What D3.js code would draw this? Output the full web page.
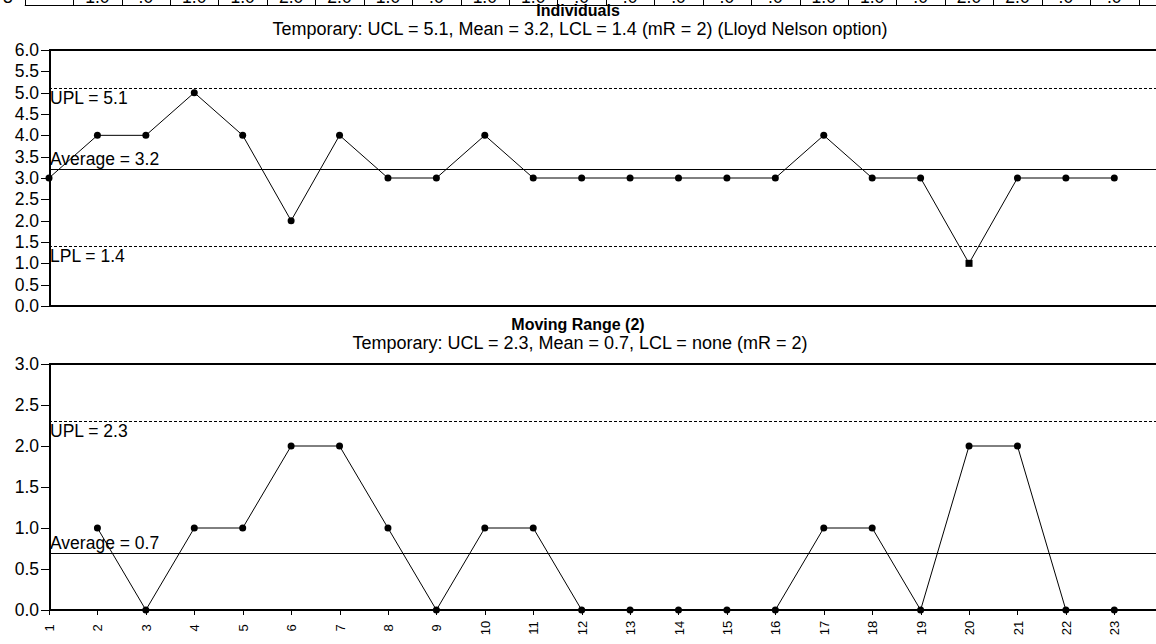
<!DOCTYPE html>
<html>
<head>
<meta charset="utf-8">
<script src="https://cdn.jsdelivr.net/npm/d3@7"></script>
<style>
  body { margin: 0; background: #fff; }
  svg { display: block; font-family: "Liberation Sans", Arial, sans-serif; }
  .axis path, .axis line { stroke: #000; shape-rendering: crispEdges; }
  .axis text { fill: #000; }
</style>
</head>
<body>
<div id="chart"></div>
<script>
var width = 1156,
    height = 644;

// data
var points = [1,2,3,4,5,6,7,8,9,10,11,12,13,14,15,16,17,18,19,20,21,22,23];
var individuals = [3,4,4,5,4,2,4,3,3,4,3,3,3,3,3,3,4,3,3,1,3,3,3];
var movingRange = [null,1,0,1,1,2,2,1,0,1,1,0,0,0,0,0,1,1,0,2,2,0,0];
var indSignals = [20];
var indTicks = [0,0.5,1,1.5,2,2.5,3,3.5,4,4.5,5,5.5,6];
var mrTicks = [0,0.5,1,1.5,2,2.5,3];
var indLimits = [
  {name: "UPL", value: 5.1, dash: true},
  {name: "Average", value: 3.2, dash: false},
  {name: "LPL", value: 1.4, dash: true}
];
var mrLimits = [
  {name: "UPL", value: 2.3, dash: true},
  {name: "Average", value: 0.7, dash: false}
];

var svg = d3.select("#chart").append("svg")
    .attr("width", width)
    .attr("height", height);

var x = d3.scaleLinear().domain([1, 23]).range([49, 1114.3]);
var plotRight = 1162;
var fmt = d3.format(".1f");
var labelSize = "17.5px";

// cut-off table strip at the very top
var strip = svg.append("g");
strip.append("line")
    .attr("x1", x(0.5)).attr("x2", width)
    .attr("y1", 5.5).attr("y2", 5.5)
    .attr("stroke", "#000");
strip.selectAll(".cellline")
  .data(points.concat([24]))
  .enter().append("line")
    .attr("x1", function(d) { return Math.round(x(d - 0.5)) + 0.5; })
    .attr("x2", function(d) { return Math.round(x(d - 0.5)) + 0.5; })
    .attr("y1", -10).attr("y2", 6)
    .attr("stroke", "#000");
strip.selectAll(".celltext")
  .data(movingRange)
  .enter().append("text")
    .attr("x", function(d, i) { return x(points[i]); })
    .attr("y", 3)
    .attr("text-anchor", "middle")
    .style("font-size", labelSize)
    .text(function(d) { return d == null ? "" : (d === 0 ? ".0" : fmt(d)); });
strip.append("text")
    .attr("x", 3).attr("y", 3)
    .style("font-size", labelSize)
    .text("3");

function panel(opts) {
  var g = svg.append("g");
  var y = d3.scaleLinear().domain(opts.domain).range([opts.bottom, opts.top]);

  g.append("text")
    .attr("x", 578).attr("y", opts.top - 34)
    .attr("text-anchor", "middle")
    .style("font-size", "16px").style("font-weight", "bold")
    .text(opts.title);
  g.append("text")
    .attr("x", 580).attr("y", opts.top - 15)
    .attr("text-anchor", "middle")
    .style("font-size", "18px")
    .text(opts.subtitle);

  // control lines
  g.selectAll(".limit")
    .data(opts.limits)
    .enter().append("line")
      .attr("x1", x(1)).attr("x2", plotRight)
      .attr("y1", function(d) { return Math.round(y(d.value)) + 0.5; })
      .attr("y2", function(d) { return Math.round(y(d.value)) + 0.5; })
      .attr("stroke", "#000")
      .attr("stroke-dasharray", function(d) { return d.dash ? "3,2" : null; });

  g.selectAll(".limitlabel")
    .data(opts.limits)
    .enter().append("text")
      .attr("x", x(1) + 1)
      .attr("y", function(d) { return d.name == "Average" ? y(d.value) - 4 : y(d.value) + 16; })
      .style("font-size", labelSize)
      .text(function(d) { return d.name + " = " + fmt(d.value); });

  // frame
  g.append("line")
    .attr("x1", x(1)).attr("x2", plotRight)
    .attr("y1", opts.top).attr("y2", opts.top)
    .attr("stroke", "#000").attr("stroke-width", 2);
  g.append("line")
    .attr("x1", x(1)).attr("x2", plotRight)
    .attr("y1", opts.bottom).attr("y2", opts.bottom)
    .attr("stroke", "#000").attr("stroke-width", 2);

  var yAxis = g.append("g")
    .attr("class", "axis")
    .attr("transform", "translate(" + x(1) + ",0)")
    .call(d3.axisLeft(y).tickValues(opts.ticks).tickFormat(fmt).tickSize(8).tickSizeOuter(0));
  yAxis.select(".domain").attr("stroke-width", 2);
  yAxis.selectAll("text").style("font-size", labelSize).attr("x", -10);

  if (opts.xAxis) {
    var xAxis = g.append("g")
      .attr("class", "axis")
      .attr("transform", "translate(0," + opts.bottom + ")")
      .call(d3.axisBottom(x).tickValues(points).tickFormat(d3.format("d")).tickSize(5).tickSizeOuter(0));
    xAxis.select(".domain").remove();
    xAxis.selectAll("text")
      .attr("transform", "rotate(-90)")
      .attr("x", -18).attr("y", 0).attr("dy", "0.35em")
      .attr("text-anchor", "middle")
      .style("font-size", "13px");
  }

  var series = opts.values.map(function(v, i) { return {x: points[i], v: v}; })
    .filter(function(d) { return d.v != null; });

  var line = d3.line()
    .x(function(d) { return x(d.x); })
    .y(function(d) { return y(d.v); });

  g.append("path")
    .datum(series)
    .attr("d", line)
    .attr("fill", "none")
    .attr("stroke", "#000")
    .attr("stroke-width", 1);

  g.selectAll(".dot")
    .data(series.filter(function(d) { return opts.signals.indexOf(d.x) < 0; }))
    .enter().append("circle")
      .attr("cx", function(d) { return x(d.x); })
      .attr("cy", function(d) { return y(d.v); })
      .attr("r", 3.5)
      .attr("fill", "#000");

  g.selectAll(".signal")
    .data(series.filter(function(d) { return opts.signals.indexOf(d.x) >= 0; }))
    .enter().append("rect")
      .attr("x", function(d) { return x(d.x) - 3.5; })
      .attr("y", function(d) { return y(d.v) - 3.5; })
      .attr("width", 7).attr("height", 7)
      .attr("fill", "#000");
}

panel({
  title: "Individuals",
  subtitle: "Temporary: UCL = 5.1, Mean = 3.2, LCL = 1.4 (mR = 2) (Lloyd Nelson option)",
  domain: [0, 6], top: 50, bottom: 306,
  ticks: indTicks, limits: indLimits,
  values: individuals, signals: indSignals, xAxis: false
});

panel({
  title: "Moving Range (2)",
  subtitle: "Temporary: UCL = 2.3, Mean = 0.7, LCL = none (mR = 2)",
  domain: [0, 3], top: 364, bottom: 610,
  ticks: mrTicks, limits: mrLimits,
  values: movingRange, signals: [], xAxis: true
});
</script>
</body>
</html>
